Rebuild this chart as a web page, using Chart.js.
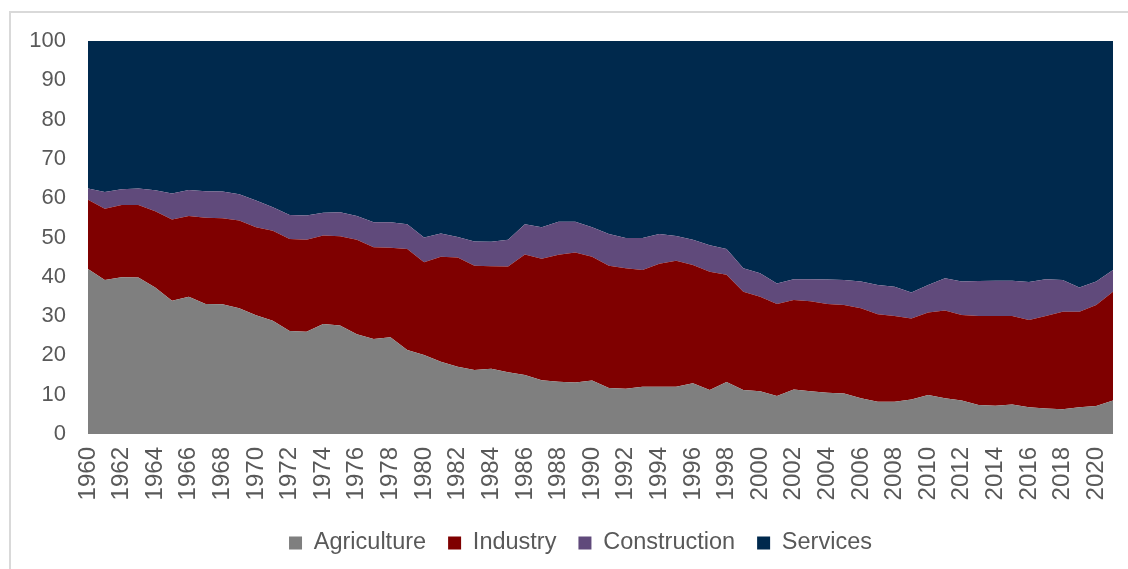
<!DOCTYPE html>
<html><head><meta charset="utf-8">
<script src="https://cdn.jsdelivr.net/npm/chart.js@4.4.1/dist/chart.umd.min.js"></script>
<style>
html,body{margin:0;padding:0;background:#fff;overflow:hidden}
#wrap{position:relative;width:1128px;height:569px;overflow:hidden}
#frame{position:absolute;left:9px;top:11px;width:1300px;height:800px;border:2px solid #d9d9d9;box-sizing:border-box}
canvas{position:absolute;left:0;top:0}
</style></head><body>
<div id="wrap"><div id="frame"></div><canvas id="c" width="1128" height="569"></canvas></div>
<script>
const years = ['1960','1961','1962','1963','1964','1965','1966','1967','1968','1969',
'1970','1971','1972','1973','1974','1975','1976','1977','1978','1979',
'1980','1981','1982','1983','1984','1985','1986','1987','1988','1989',
'1990','1991','1992','1993','1994','1995','1996','1997','1998','1999',
'2000','2001','2002','2003','2004','2005','2006','2007','2008','2009',
'2010','2011','2012','2013','2014','2015','2016','2017','2018','2019',
'2020','2021'];

const agriculture = [42.0,39.2,39.9,39.8,37.3,33.9,34.9,33.1,33.0,32.0,
30.2,28.8,26.2,26.0,28.0,27.6,25.4,24.2,24.6,21.4,
20.1,18.4,17.1,16.3,16.6,15.7,15.0,13.7,13.3,13.1,
13.6,11.7,11.5,12.0,12.0,12.0,12.9,11.2,13.2,11.2,
10.9,9.7,11.3,10.9,10.5,10.3,9.1,8.2,8.2,8.8,
9.9,9.1,8.5,7.4,7.2,7.5,6.8,6.5,6.3,6.8,
7.1,8.5];

const industry = [17.6,18.1,18.4,18.5,19.4,20.7,20.6,21.9,21.9,22.3,
22.4,22.9,23.4,23.4,22.5,22.7,24.0,23.3,22.8,25.7,
23.6,26.7,27.8,26.5,26.1,26.9,30.7,30.9,32.3,33.1,
31.5,31.1,30.7,29.7,31.3,32.1,30.1,30.1,27.3,25.0,
24.0,23.4,22.8,22.9,22.6,22.5,22.9,22.3,21.8,20.6,
21.0,22.3,21.8,22.6,22.8,22.5,22.2,23.5,24.8,24.3,
25.7,27.7];

const construction = [2.9,4.3,4.0,4.2,5.3,6.6,6.6,6.8,6.8,6.7,
6.8,6.0,6.1,6.2,5.8,6.1,6.1,6.4,6.5,6.3,
6.3,5.9,5.2,6.2,6.2,6.8,7.7,8.0,8.4,7.8,
7.5,8.1,7.7,8.2,7.6,6.3,6.4,6.7,6.6,6.0,
6.0,5.2,5.3,5.6,6.2,6.4,6.8,7.4,7.5,6.6,
7.0,8.2,8.5,8.9,9.0,9.0,9.7,9.4,8.1,6.2,
6.0,5.5];

const services = [37.5,38.4,37.7,37.5,38.0,38.8,37.9,38.2,38.3,39.0,
40.6,42.3,44.3,44.4,43.7,43.6,44.5,46.1,46.1,46.6,
50.0,49.0,49.9,51.0,51.1,50.6,46.6,47.4,46.0,46.0,
47.4,49.1,50.1,50.1,49.1,49.6,50.6,52.0,52.9,57.8,
59.1,61.7,60.6,60.6,60.7,60.8,61.2,62.1,62.5,64.0,
62.1,60.4,61.2,61.1,61.0,61.0,61.3,60.6,60.8,62.7,
61.2,58.3];

const seriesNames = ['Agriculture','Industry','Construction','Services'];
const seriesColors = ['#7f7f7f','#7f0000','#604a7b','#00294d'];
const seriesData = [agriculture, industry, construction, services];

const FONT = '"Liberation Sans", Arial, sans-serif';
const TXT = '#595959';

const datasets = seriesData.map((d, i) => ({
  label: seriesNames[i],
  data: d,
  backgroundColor: seriesColors[i],
  borderColor: seriesColors[i],
  borderWidth: 0,
  pointRadius: 0,
  pointHoverRadius: 0,
  tension: 0,
  fill: i === 0 ? 'origin' : '-1'
}));

// nudge the centred legend to match the original's horizontal placement
const legendShift = {
  id: 'legendShift',
  afterLayout(chart) {
    const lg = chart.legend;
    if (lg) { lg.left += 24; lg.right += 24; }
  }
};

new Chart(document.getElementById('c'), {
  type: 'line',
  data: { labels: years, datasets },
  plugins: [legendShift],
  options: {
    responsive: false,
    animation: false,
    devicePixelRatio: 1,
    layout: { padding: { top: 41, left: 0, right: 15, bottom: 4.25 } },
    plugins: {
      tooltip: { enabled: false },
      legend: {
        position: 'bottom',
        labels: {
          boxWidth: 13, boxHeight: 13, padding: 22,
          color: TXT,
          font: { family: FONT, size: 23.5 }
        }
      }
    },
    scales: {
      x: {
        offset: false,
        grid: { display: false, drawTicks: false },
        border: { display: false },
        afterFit: (s) => { s.height = 75.25; s.paddingLeft = 0; s.paddingRight = 0; },
        ticks: {
          autoSkip: false,
          minRotation: 90, maxRotation: 90,
          padding: 13,
          color: TXT,
          font: { family: FONT, size: 24 },
          callback: function(v, i) { return i % 2 === 0 ? this.getLabelForValue(v) : null; }
        }
      },
      y: {
        stacked: true,
        min: 0, max: 100,
        grid: { display: false, drawTicks: false },
        border: { display: false },
        afterFit: (s) => { s.width = 88; },
        ticks: {
          stepSize: 10,
          padding: 22,
          color: TXT,
          font: { family: FONT, size: 22 }
        }
      }
    }
  }
});
</script>
</body></html>
